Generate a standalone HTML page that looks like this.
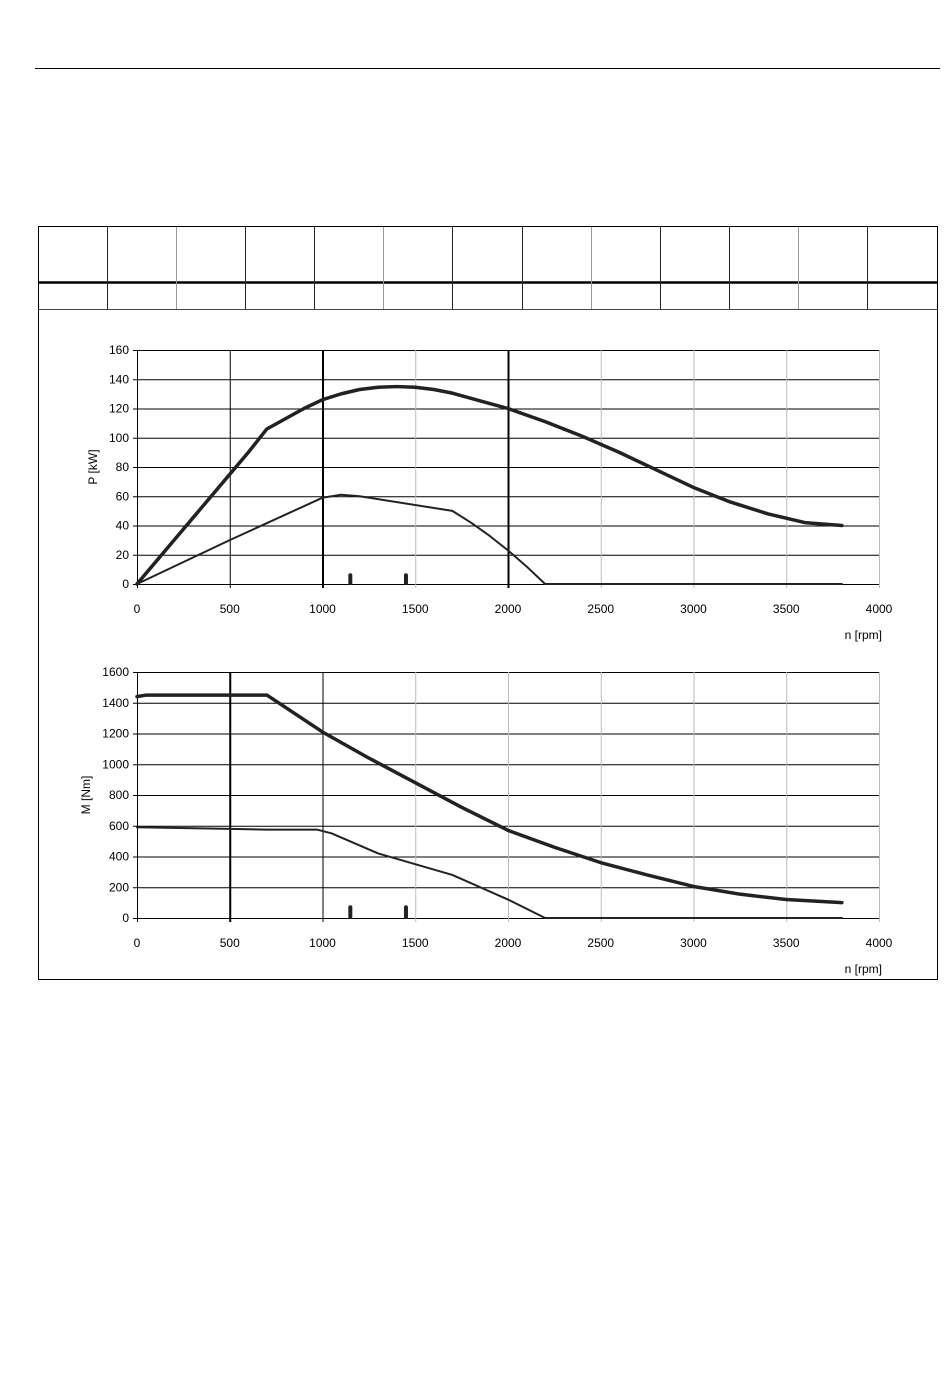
<!DOCTYPE html>
<html><head><meta charset="utf-8"><style>
body{margin:0;background:#fff;width:950px;height:1397px;position:relative;font-family:"Liberation Sans",sans-serif}
svg{position:absolute;left:0;top:0}
</style></head><body>
<svg width="950" height="1397" font-family="Liberation Sans, sans-serif" font-size="12">
<line x1="35" y1="68.5" x2="940" y2="68.5" stroke="#000"/>
<g id="table">
<rect x="38.5" y="226.5" width="899" height="753" fill="none" stroke="#000"/>
<line x1="38" y1="282.5" x2="938" y2="282.5" stroke="#000" stroke-width="2.5"/>
<line x1="38" y1="309.5" x2="938" y2="309.5" stroke="#444"/>
</g>
<g id="c1"></g>
<g id="c2"></g>
</svg>
<script>
const ns="http://www.w3.org/2000/svg";
function mk(p,t,a){const e=document.createElementNS(ns,t);for(const k in a)e.setAttribute(k,a[k]);p.appendChild(e);return e;}
const colX=[107,176,245,314,383,452,522,591,660,729,798,867];
const tbl=document.getElementById('table');
colX.forEach((x,i)=>{const l=mk(tbl,'line',{x1:x+.5,y1:227,x2:x+.5,y2:309,stroke:i%3==1?'#999':'#222'});

});

const xTicks=[0,500,1000,1500,2000,2500,3000,3500,4000];
const pTicks=[0,20,40,60,80,100,120,140,160];
const mTicks=[0,200,400,600,800,1000,1200,1400,1600];
const pMaxN=[0,100,200,300,400,500,600,700,800,900,1000,1100,1200,1300,1400,1500,1600,1700,1800,1900,2000,2200,2400,2600,2800,3000,3200,3400,3600,3800];
const pMax=[0,15,30,45,60,75,90,106,113,120,126,130,133,134.5,135,134.5,133,130.5,127,123.5,120,111,101,90,78,66,56,48,42,40];
const pMinN=[0,500,1000,1100,1200,1700,1800,1900,2000,2100,2200,3800];
const pMin=[0,30,59,61,60,50,42,33,23,12,0,0];
const mMaxN=[0,50,700,1000,1250,1500,1750,2000,2250,2500,2750,3000,3250,3500,3800];
const mMax=[1440,1450,1450,1210,1040,880,720,570,460,360,280,205,155,120,100];
const mMinN=[0,500,700,970,1050,1300,1500,1700,2000,2200,3800];
const mMin=[590,580,575,575,550,420,350,280,120,0,0];
const markN=[1150,1450];
const pMark=[6,6];
const mMark=[70,70];

function chart(g,cfg){
 const x0=137,x1=879,yb=cfg.yb,yt=cfg.yt;
 const X=v=>x0+(x1-x0)*v/4000, Y=v=>yb-(yb-yt)*v/cfg.max;
 cfg.yt_.forEach(t=>{const l=mk(g,'line',{x1:x0-4,y1:Y(t)+.5,x2:x1,y2:Y(t)+.5,stroke:'#000'});
  
  const tx=mk(g,'text',{x:x0-8,y:Y(t)+4,'text-anchor':'end'});tx.textContent=t;
  });
 xTicks.forEach(t=>{const s=cfg.vstyle[t]||['#bbb',1];
  const l=mk(g,'line',{x1:X(t)+.5,y1:yt,x2:X(t)+.5,y2:yb+4,stroke:s[0],'stroke-width':s[1]});
  
  const tx=mk(g,'text',{x:X(t),y:yb+29,'text-anchor':'middle'});tx.textContent=t;
  });
 const ax=mk(g,'line',{x1:x0+.5,y1:yt,x2:x0+.5,y2:yb,stroke:'#000'});
 
 const xt=mk(g,'text',{x:882,y:yb+55,'text-anchor':'end'});xt.textContent='n [rpm]';
 
 const yl=mk(g,'text',{x:0,y:0,'text-anchor':'middle',transform:`translate(${cfg.ytx},${(yb+yt)/2}) rotate(-90)`});yl.textContent=cfg.title;
 
 function line(ns_,vs,w,name){const p=mk(g,'polyline',{points:ns_.map((n,i)=>X(n)+','+Y(vs[i])).join(' '),fill:'none',stroke:'#222','stroke-width':w,'stroke-linejoin':'round','stroke-linecap':'round'});
  }
 line(cfg.maxN,cfg.maxV,3.5,'max-curve');
 line(cfg.minN,cfg.minV,2,'min-curve');
 markN.forEach((n,i)=>{const m=mk(g,'line',{x1:X(n),y1:yb-1,x2:X(n),y2:Y(cfg.mark[i]),stroke:'#222','stroke-width':4,'stroke-linecap':'round'});
  });
}
chart(document.getElementById('c1'),{yb:584,yt:350,max:160,yt_:pTicks,title:'P [kW]',ytx:97,
 vstyle:{500:['#000',1],1000:['#000',2],2000:['#000',2],0:['#000',1]},maxN:pMaxN,maxV:pMax,minN:pMinN,minV:pMin,mark:pMark});
chart(document.getElementById('c2'),{yb:918,yt:672,max:1600,yt_:mTicks,title:'M [Nm]',ytx:90,
 vstyle:{500:['#000',2],1000:['#000',1],0:['#000',1]},maxN:mMaxN,maxV:mMax,minN:mMinN,minV:mMin,mark:mMark});
</script>
</body></html>
